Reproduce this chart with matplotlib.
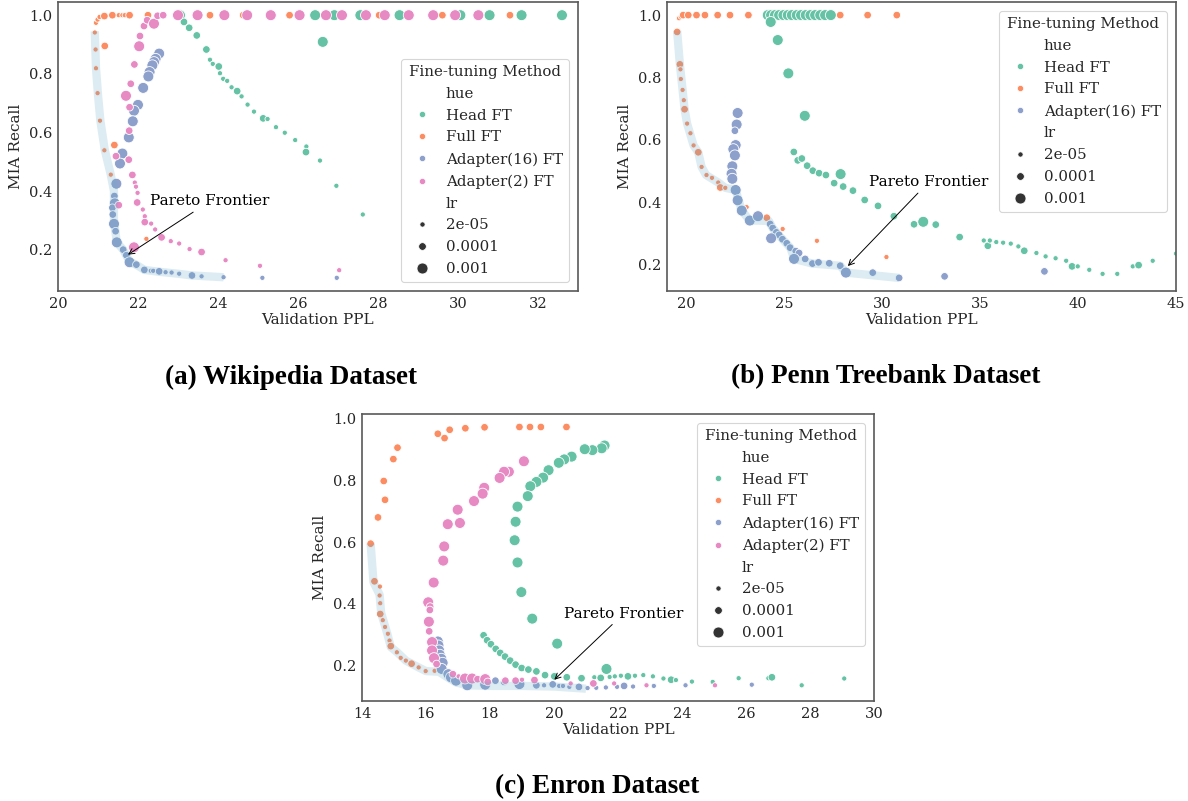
import matplotlib
matplotlib.use('Agg')
import matplotlib.pyplot as plt
from matplotlib.lines import Line2D

# 폰트 설정
plt.rcParams['font.family'] = ['DejaVu Serif']
plt.rcParams['text.color'] = '0.15'
plt.rcParams['axes.labelcolor'] = '0.15'
plt.rcParams['xtick.color'] = '0.15'
plt.rcParams['ytick.color'] = '0.15'

# learning rate 값
S, M, L = 2e-05, 0.0001, 0.001
lr_values = [S, M, L]
lr_labels = ['2e-05', '0.0001', '0.001']
lr_sizes = {S: 14, M: 30, L: 62}

methods = ['Head FT', 'Full FT', 'Adapter(16) FT', 'Adapter(2) FT']
colors = ['#66c2a5', '#fc8d62', '#8da0cb', '#e78ac3']

# ---- (a) Wikipedia : (Validation PPL, MIA Recall, lr)
wiki_head = [(23.05, 1.0, L), (23.15, 0.977, M), (23.28, 0.957, M), (23.47, 0.931, M), (23.71, 0.883, M),
             (23.80, 0.848, S), (23.87, 0.834, S), (24.02, 0.825, M), (24.05, 0.802, S), (24.13, 0.783, S),
             (24.23, 0.776, S), (24.34, 0.754, S), (24.48, 0.741, M), (24.59, 0.723, S), (24.74, 0.695, S),
             (24.90, 0.671, S), (25.13, 0.648, M), (25.24, 0.646, S), (25.45, 0.618, S), (25.67, 0.599, S),
             (25.93, 0.574, S), (26.21, 0.552, S), (26.20, 0.533, M), (26.55, 0.504, S), (26.96, 0.418, S),
             (27.62, 0.320, S), (26.62, 0.909, L), (26.43, 1.0, L), (26.91, 1.0, L), (27.56, 1.0, L),
             (28.54, 1.0, L), (30.06, 1.0, L), (30.79, 1.0, L), (31.59, 1.0, L), (32.60, 1.0, L)]
wiki_full = [(20.92, 0.941, S), (20.94, 0.883, S), (20.95, 0.819, S), (20.99, 0.734, S), (21.05, 0.640, S),
             (21.16, 0.539, S), (21.32, 0.456, S), (21.17, 0.895, M), (21.41, 0.557, M), (22.21, 0.237, S),
             (20.95, 0.974, S), (20.99, 0.985, S), (21.04, 0.994, S), (21.16, 0.997, M), (21.36, 1.0, M),
             (21.52, 1.0, S), (21.61, 1.0, S), (21.67, 1.0, S), (21.79, 1.0, M), (22.25, 1.0, M),
             (23.80, 1.0, M), (24.63, 1.0, M), (25.79, 1.0, M), (28.03, 1.0, M), (29.61, 1.0, M), (31.30, 1.0, M)]
wiki_a16 = [(22.53, 0.869, L), (22.44, 0.851, L), (22.40, 0.840, L), (22.36, 0.829, L), (22.29, 0.806, L),
            (22.26, 0.791, L), (22.13, 0.752, L), (22.00, 0.694, L), (21.90, 0.674, L), (21.87, 0.638, L),
            (21.77, 0.583, L), (21.61, 0.528, L), (21.55, 0.494, L), (21.46, 0.425, L), (21.41, 0.383, M),
            (21.42, 0.358, L), (21.36, 0.343, M), (21.37, 0.320, M), (21.40, 0.288, L), (21.44, 0.263, M),
            (21.47, 0.225, L), (21.63, 0.200, M), (21.71, 0.181, M), (21.79, 0.157, L), (21.96, 0.149, M),
            (22.16, 0.131, M), (22.32, 0.128, S), (22.38, 0.128, S), (22.53, 0.126, M), (22.69, 0.123, S),
            (22.84, 0.122, S), (23.03, 0.118, S), (23.35, 0.112, M), (23.59, 0.109, S), (24.14, 0.106, S),
            (25.11, 0.104, S), (26.97, 0.104, S)]
wiki_a2 = [(22.15, 0.963, M), (22.23, 0.983, M), (22.40, 0.971, L), (22.49, 0.998, M), (22.63, 1.0, M),
           (23.00, 1.0, L), (23.49, 1.0, L), (22.05, 0.929, M), (22.03, 0.894, L), (21.91, 0.832, M),
           (21.82, 0.766, M), (21.70, 0.725, L), (21.79, 0.686, M), (21.78, 0.606, M), (21.45, 0.519, M),
           (21.77, 0.507, M), (21.86, 0.455, M), (21.92, 0.429, S), (21.95, 0.415, S), (21.99, 0.394, S),
           (21.98, 0.361, M), (21.52, 0.352, M), (22.12, 0.337, S), (22.17, 0.314, S), (22.17, 0.294, M),
           (22.33, 0.289, S), (22.43, 0.269, S), (22.59, 0.242, M), (22.82, 0.229, S), (23.03, 0.221, S),
           (23.29, 0.202, S), (23.59, 0.192, M), (21.90, 0.208, L), (24.19, 0.164, S), (25.05, 0.145, S),
           (27.03, 0.130, S), (24.16, 1.0, L), (24.73, 1.0, L), (25.32, 1.0, L), (26.04, 1.0, L),
           (26.70, 1.0, L), (27.10, 1.0, L), (27.70, 1.0, L), (28.17, 1.0, L), (28.77, 1.0, L),
           (29.38, 1.0, L), (29.93, 1.0, L), (30.51, 1.0, L)]
wiki_pareto_x = [20.92, 20.95, 21.00, 21.06, 21.17, 21.32, 21.40, 21.40, 21.47, 21.63, 21.79, 22.00, 22.16,
                 22.50, 23.00, 23.35, 24.14]
wiki_pareto_y = [0.945, 0.820, 0.730, 0.640, 0.540, 0.456, 0.400, 0.300, 0.225, 0.200, 0.160, 0.145, 0.131,
                 0.125, 0.118, 0.112, 0.106]

# ---- (b) Penn Treebank
penn_head = [(24.15, 1.0, L), (24.32, 1.0, L), (24.52, 1.0, L), (24.73, 1.0, L), (24.95, 1.0, L),
             (25.17, 1.0, L), (25.38, 1.0, L), (25.63, 1.0, L), (25.85, 1.0, L), (26.09, 1.0, L),
             (26.33, 1.0, L), (26.57, 1.0, L), (26.83, 1.0, L), (27.08, 1.0, L), (27.37, 1.0, L),
             (24.30, 0.978, L), (24.66, 0.920, L), (25.20, 0.813, L), (26.04, 0.677, L), (25.48, 0.561, M),
             (25.68, 0.534, M), (25.89, 0.540, M), (26.16, 0.517, M), (26.45, 0.501, M), (26.77, 0.493, M),
             (27.12, 0.487, M), (27.87, 0.490, L), (27.54, 0.461, M), (28.00, 0.450, M), (28.50, 0.437, M),
             (29.10, 0.407, M), (29.78, 0.388, M), (30.59, 0.355, M), (31.62, 0.329, M), (32.09, 0.337, L),
             (32.73, 0.328, M), (33.95, 0.288, M), (35.18, 0.277, S), (35.39, 0.260, M), (35.49, 0.277, S),
             (35.82, 0.272, S), (36.17, 0.270, S), (36.56, 0.267, S), (36.95, 0.258, S), (37.25, 0.244, M),
             (37.87, 0.237, S), (38.34, 0.226, S), (38.85, 0.220, S), (39.39, 0.212, S), (39.69, 0.194, M),
             (39.98, 0.194, S), (40.57, 0.183, S), (41.25, 0.170, S), (42.00, 0.170, S), (42.79, 0.194, S),
             (43.09, 0.198, M), (43.81, 0.212, S), (45.00, 0.235, S)]
penn_full = [(19.62, 0.990, S), (19.71, 0.995, S), (19.83, 1.0, M), (20.09, 1.0, M), (20.51, 1.0, M),
             (20.94, 1.0, M), (21.59, 1.0, M), (22.22, 1.0, M), (23.16, 1.0, M), (27.85, 1.0, M),
             (29.25, 1.0, M), (30.74, 1.0, M), (19.52, 0.946, M), (19.66, 0.842, M), (19.69, 0.826, S),
             (19.71, 0.795, S), (19.80, 0.760, S), (19.86, 0.727, S), (19.90, 0.698, M), (20.03, 0.652, S),
             (20.20, 0.621, S), (20.36, 0.582, S), (20.60, 0.560, M), (20.77, 0.513, S), (21.02, 0.487, S),
             (21.30, 0.478, S), (21.62, 0.463, S), (21.72, 0.447, M), (21.98, 0.446, S), (23.07, 0.384, S),
             (24.10, 0.350, M), (24.91, 0.314, S), (26.66, 0.276, S), (30.21, 0.224, S)]
penn_a16 = [(22.61, 0.686, L), (22.56, 0.649, L), (22.47, 0.629, M), (22.51, 0.583, L), (22.39, 0.570, L),
            (22.47, 0.550, L), (22.34, 0.515, L), (22.30, 0.491, L), (22.34, 0.475, L), (22.51, 0.439, L),
            (22.61, 0.406, L), (22.82, 0.373, L), (23.23, 0.341, L), (23.65, 0.355, L), (24.27, 0.330, M),
            (24.40, 0.317, M), (24.59, 0.303, M), (24.73, 0.295, M), (24.32, 0.284, L), (24.90, 0.281, M),
            (25.12, 0.268, M), (25.29, 0.254, M), (25.58, 0.243, M), (25.75, 0.237, M), (25.49, 0.218, L),
            (26.06, 0.218, M), (26.43, 0.203, M), (26.74, 0.207, M), (27.29, 0.204, M), (27.85, 0.196, M),
            (28.14, 0.174, L), (29.51, 0.174, M), (30.86, 0.157, M), (33.18, 0.162, M), (38.28, 0.178, M)]
penn_pareto_x = [19.52, 19.66, 19.80, 19.90, 20.03, 20.36, 20.60, 20.77, 21.00, 21.62, 21.98, 22.51, 22.82,
                 23.23, 24.20, 24.40, 24.90, 25.30, 25.50, 26.43, 27.85, 28.14, 30.86]
penn_pareto_y = [0.950, 0.842, 0.760, 0.698, 0.652, 0.582, 0.560, 0.513, 0.487, 0.463, 0.446, 0.439, 0.373,
                 0.341, 0.340, 0.317, 0.281, 0.254, 0.218, 0.203, 0.196, 0.174, 0.157]

# ---- (c) Enron
enron_head = [(21.58, 0.913, L), (21.49, 0.904, L), (21.20, 0.898, L), (20.96, 0.901, L), (20.55, 0.877, L),
              (20.32, 0.868, L), (20.15, 0.857, L), (19.83, 0.833, L), (19.66, 0.809, L), (19.45, 0.795, L),
              (19.26, 0.781, L), (19.18, 0.749, L), (18.86, 0.715, L), (18.80, 0.666, L), (18.77, 0.606, L),
              (18.86, 0.534, L), (18.98, 0.438, L), (19.32, 0.352, L), (20.10, 0.271, L), (21.64, 0.189, L),
              (17.80, 0.298, M), (17.91, 0.282, M), (18.03, 0.269, M), (18.18, 0.254, M), (18.32, 0.241, M),
              (18.47, 0.229, M), (18.63, 0.216, M), (18.80, 0.203, M), (18.99, 0.192, M), (19.20, 0.187, M),
              (19.45, 0.181, M), (19.72, 0.169, M), (20.01, 0.165, M), (20.40, 0.162, M), (20.86, 0.159, M),
              (21.26, 0.162, S), (21.46, 0.160, M), (21.74, 0.163, S), (21.90, 0.165, S), (22.09, 0.167, S),
              (22.31, 0.165, M), (22.53, 0.167, S), (22.79, 0.169, S), (23.09, 0.165, S), (23.42, 0.158, S),
              (23.66, 0.154, M), (23.81, 0.153, S), (24.31, 0.148, S), (24.96, 0.147, S), (25.77, 0.159, S),
              (26.70, 0.159, S), (26.81, 0.162, M), (27.74, 0.136, S), (29.07, 0.158, S)]
enron_full = [(16.37, 0.951, M), (16.58, 0.937, M), (16.74, 0.964, M), (17.23, 0.969, M), (17.83, 0.972, M),
              (18.92, 0.973, M), (19.25, 0.973, M), (19.59, 0.973, M), (20.39, 0.973, M), (14.50, 0.680, M),
              (14.72, 0.737, M), (14.68, 0.798, M), (14.98, 0.869, M), (15.11, 0.906, M), (14.27, 0.595, M),
              (14.39, 0.473, M), (14.56, 0.456, S), (14.55, 0.427, S), (14.57, 0.402, S), (14.57, 0.367, M),
              (14.65, 0.347, S), (14.72, 0.325, S), (14.81, 0.303, S), (14.86, 0.281, S), (14.90, 0.263, M),
              (15.09, 0.243, S), (15.21, 0.225, S), (15.37, 0.216, S), (15.55, 0.206, M), (15.77, 0.194, S),
              (15.99, 0.182, S), (16.27, 0.183, S)]
enron_a16 = [(16.37, 0.278, L), (16.39, 0.265, L), (16.41, 0.249, L), (16.43, 0.235, L), (16.48, 0.222, L),
             (16.52, 0.209, L), (16.49, 0.189, L), (16.70, 0.172, L), (16.78, 0.162, L), (16.94, 0.151, L),
             (17.29, 0.136, L), (17.85, 0.138, L), (18.17, 0.151, M), (18.44, 0.147, M), (18.92, 0.140, L),
             (19.45, 0.136, M), (19.69, 0.136, S), (19.96, 0.139, M), (20.16, 0.134, S), (20.28, 0.134, S),
             (20.48, 0.131, S), (20.78, 0.131, M), (21.05, 0.127, S), (21.32, 0.128, S), (21.62, 0.129, S),
             (21.97, 0.131, S), (22.19, 0.134, M), (22.47, 0.132, S), (23.12, 0.134, S), (24.11, 0.136, S),
             (26.18, 0.138, S)]
enron_a2 = [(19.06, 0.862, L), (18.59, 0.828, L), (18.44, 0.828, L), (18.30, 0.808, L), (17.82, 0.776, L),
            (17.77, 0.757, L), (17.50, 0.733, L), (16.99, 0.705, L), (17.06, 0.662, L), (16.68, 0.658, L),
            (16.57, 0.586, L), (16.54, 0.540, L), (16.24, 0.469, L), (16.07, 0.405, L), (16.13, 0.391, M),
            (16.12, 0.380, M), (16.09, 0.342, L), (16.10, 0.311, M), (16.19, 0.276, L), (16.19, 0.249, L),
            (16.25, 0.224, L), (16.33, 0.205, M), (16.84, 0.172, M), (17.02, 0.165, S), (17.22, 0.158, L),
            (17.44, 0.158, L), (17.61, 0.156, M), (17.85, 0.156, L), (17.93, 0.147, M), (18.48, 0.151, M),
            (18.80, 0.151, M), (19.00, 0.154, S), (19.39, 0.153, M), (20.52, 0.142, S), (21.23, 0.142, M),
            (21.88, 0.142, S), (22.89, 0.136, S), (25.03, 0.136, S)]
enron_pareto_x = [14.27, 14.36, 14.55, 14.60, 14.80, 14.90, 15.10, 15.37, 15.77, 16.00, 16.40, 16.70, 16.95,
                  17.29, 18.00, 19.00, 20.00, 21.00]
enron_pareto_y = [0.595, 0.470, 0.430, 0.370, 0.300, 0.260, 0.243, 0.216, 0.194, 0.182, 0.180, 0.160, 0.145,
                  0.136, 0.134, 0.134, 0.132, 0.125]


def draw_panel(ax, series, pareto_x, pareto_y, xlim, ylim, xticks, text_pos, arrow_start, arrow_tip, legend_loc):
    # 방법별 산점도
    for i, pts in enumerate(series):
        if pts is None:
            continue
        xs = [p[0] for p in pts]
        ys = [p[1] for p in pts]
        ss = [lr_sizes[p[2]] for p in pts]
        ax.scatter(xs, ys, s=ss, color=colors[i], edgecolor='white', linewidth=0.6, zorder=2)

    # Pareto frontier 선
    ax.plot(pareto_x, pareto_y, color='#66abc7', alpha=0.22, linewidth=6,
            solid_capstyle='butt', zorder=3)

    ax.text(text_pos[0], text_pos[1], 'Pareto Frontier', fontsize=11, ha='left', va='center', color='black')
    ax.annotate('', xy=arrow_tip, xytext=arrow_start,
                arrowprops=dict(arrowstyle='->', color='black', lw=0.7, shrinkA=0, shrinkB=0))

    ax.set_xlim(xlim)
    ax.set_ylim(ylim)
    ax.set_xticks(xticks)
    ax.set_yticks([0.2, 0.4, 0.6, 0.8, 1.0])
    ax.tick_params(length=0, labelsize=10.5, pad=4)
    ax.set_xlabel('Validation PPL', fontsize=11, labelpad=2)
    ax.set_ylabel('MIA Recall', fontsize=11, labelpad=4)
    for sp in ax.spines.values():
        sp.set_color('0.35')
        sp.set_linewidth(1.2)

    # 범례 (hue / lr)
    handles = [Line2D([], [], linestyle='none', marker='')]
    labels = ['hue']
    for i, pts in enumerate(series):
        if pts is None:
            continue
        handles.append(Line2D([], [], linestyle='none', marker='o', markersize=4.5,
                              markerfacecolor=colors[i], markeredgecolor='white', markeredgewidth=0.5))
        labels.append(methods[i])
    handles.append(Line2D([], [], linestyle='none', marker=''))
    labels.append('lr')
    for v, lab in zip(lr_values, lr_labels):
        handles.append(Line2D([], [], linestyle='none', marker='o', markersize=lr_sizes[v] ** 0.5,
                              markerfacecolor='0.2', markeredgecolor='white', markeredgewidth=0.5))
        labels.append(lab)
    leg = ax.legend(handles, labels, title='Fine-tuning Method', loc=legend_loc, fontsize=10.8,
                    title_fontsize=10.8, frameon=True, framealpha=0.8, edgecolor='0.8',
                    labelspacing=0.52, handletextpad=0.6, borderaxespad=0.6, borderpad=0.4)
    leg.get_frame().set_linewidth(0.8)


fig = plt.figure(figsize=(11.88, 8.01), dpi=100)
ax_a = fig.add_axes([0.0488, 0.6367, 0.4377, 0.3608])
ax_b = fig.add_axes([0.5614, 0.6367, 0.4285, 0.3608])
ax_c = fig.add_axes([0.3047, 0.1248, 0.4310, 0.3583])

draw_panel(ax_a, [wiki_head, wiki_full, wiki_a16, wiki_a2], wiki_pareto_x, wiki_pareto_y,
           (20, 33), (0.059, 1.045), [20, 22, 24, 26, 28, 30, 32],
           (22.31, 0.366), (23.38, 0.328), (21.75, 0.183), 'lower right')
draw_panel(ax_b, [penn_head, penn_full, penn_a16, None], penn_pareto_x, penn_pareto_y,
           (19, 45), (0.115, 1.042), [20, 25, 30, 35, 40, 45],
           (29.32, 0.466), (31.82, 0.429), (28.24, 0.195), 'upper right')
draw_panel(ax_c, [enron_head, enron_full, enron_a16, enron_a2], enron_pareto_x, enron_pareto_y,
           (14, 30), (0.085, 1.015), [14, 16, 18, 20, 22, 24, 26, 28, 30],
           (20.30, 0.368), (21.82, 0.333), (20.01, 0.154), 'upper right')

# 캡션
cap_font = dict(fontsize=19.5, fontweight='bold', family='Liberation Serif', color='black', ha='center', va='center')
fig.text(291 / 1188, 1 - 377 / 801, '(a) Wikipedia Dataset', **cap_font)
fig.text(886 / 1188, 1 - 377 / 801, '(b) Penn Treebank Dataset', **cap_font)
fig.text(597 / 1188, 1 - 787 / 801, '(c) Enron Dataset', **cap_font)

plt.savefig('out.png', dpi=100)
